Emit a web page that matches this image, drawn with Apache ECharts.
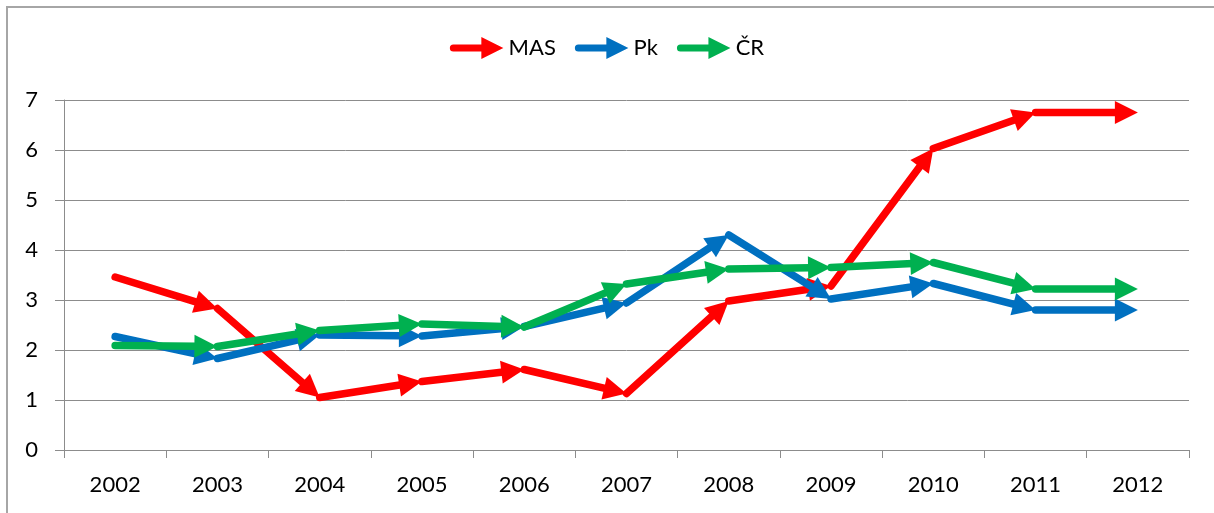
<!DOCTYPE html>
<html>
<head>
<meta charset="utf-8">
<script src="https://cdn.jsdelivr.net/npm/echarts@6/dist/echarts.min.js"></script>
<style>
  html, body { margin: 0; padding: 0; background: #fff; }
  #chart { width: 1214px; height: 513px; }
</style>
</head>
<body>
<div id="chart"></div>
<script>
const categories = ['2002', '2003', '2004', '2005', '2006', '2007', '2008', '2009', '2010', '2011', '2012'];
const seriesNames = ['MAS', 'Pk', 'ČR'];
const masValues = [3.46, 2.83, 1.05, 1.37, 1.61, 1.13, 2.98, 3.28, 6.03, 6.75, 6.75];
const pkValues  = [2.27, 1.83, 2.30, 2.28, 2.47, 2.94, 4.30, 3.02, 3.33, 2.80, 2.80];
const crValues  = [2.09, 2.07, 2.39, 2.52, 2.46, 3.32, 3.62, 3.65, 3.75, 3.22, 3.22];
const yTicks = { min: 0, max: 7, interval: 1 };

const colors = ['#ff0000', '#0070c0', '#00b050'];
const FONT = 'Lato, "Open Sans", sans-serif';
const LINE_W = 7.5, ARROW_L = 23, ARROW_W = 23;

function segmentSeries(name, values, color) {
  const data = [];
  for (let i = 1; i < values.length; i++) data.push([i, values[i - 1], values[i]]);
  return {
    type: 'custom',
    name: name,
    data: data,
    itemStyle: { color: color },
    encode: { x: 0, y: [1, 2] },
    clip: false,
    renderItem: function (params, api) {
      const i = api.value(0);
      const p0 = api.coord([i - 1, api.value(1)]);
      const p1 = api.coord([i, api.value(2)]);
      const dx = p1[0] - p0[0], dy = p1[1] - p0[1];
      const len = Math.sqrt(dx * dx + dy * dy) || 1;
      const ux = dx / len, uy = dy / len;
      const nx = -uy, ny = ux;
      const bx = p1[0] - ux * ARROW_L, by = p1[1] - uy * ARROW_L;
      return {
        type: 'group',
        children: [
          {
            type: 'line',
            shape: { x1: p0[0], y1: p0[1], x2: bx + ux * 2, y2: by + uy * 2 },
            style: { stroke: color, lineWidth: LINE_W, lineCap: 'round' }
          },
          {
            type: 'polygon',
            shape: { points: [
              [p1[0], p1[1]],
              [bx + nx * ARROW_W / 2, by + ny * ARROW_W / 2],
              [bx - nx * ARROW_W / 2, by - ny * ARROW_W / 2]
            ] },
            style: { fill: color }
          }
        ]
      };
    }
  };
}

const legendIcon = 'path://M4,7.5 L32,7.5 L32,0 L54,11 L32,22 L32,14.5 L4,14.5 A3.5,3.5 0 0 1 4,7.5 Z';

const chart = echarts.init(document.getElementById('chart'), null, { renderer: 'canvas' });
chart.setOption({
  backgroundColor: '#ffffff',
  animation: false,
  graphic: [{
    type: 'rect',
    shape: { x: 7, y: 7, width: 1400, height: 700 },
    style: { fill: 'none', stroke: '#a6a6a6', lineWidth: 2 },
    silent: true,
    z: -10
  }],
  legend: {
    top: 32,
    left: 'center',
    itemWidth: 54,
    itemHeight: 22,
    itemGap: 19,
    data: seriesNames.map(n => ({ name: n, icon: legendIcon })),
    textStyle: { fontSize: 22, fontFamily: FONT, color: '#000' }
  },
  grid: { left: 64, right: 25, top: 100, bottom: 63, containLabel: false },
  xAxis: {
    type: 'category',
    data: categories,
    boundaryGap: true,
    axisLine: { show: true, lineStyle: { color: '#8c8c8c', width: 1 } },
    axisTick: { show: true, length: 8, lineStyle: { color: '#8c8c8c' } },
    axisLabel: { fontSize: 22, fontFamily: FONT, color: '#000', margin: 24 },
    splitLine: { show: false }
  },
  yAxis: {
    type: 'value',
    min: yTicks.min,
    max: yTicks.max,
    interval: yTicks.interval,
    axisLine: { show: true, lineStyle: { color: '#8c8c8c', width: 1 } },
    axisTick: { show: true, length: 9, lineStyle: { color: '#8c8c8c' } },
    axisLabel: { fontSize: 22, fontFamily: FONT, color: '#000', margin: 26 },
    splitLine: { show: true, lineStyle: { color: '#8c8c8c', width: 1 } }
  },
  series: [
    segmentSeries(seriesNames[0], masValues, colors[0]),
    segmentSeries(seriesNames[1], pkValues, colors[1]),
    segmentSeries(seriesNames[2], crValues, colors[2])
  ]
});
</script>
</body>
</html>
